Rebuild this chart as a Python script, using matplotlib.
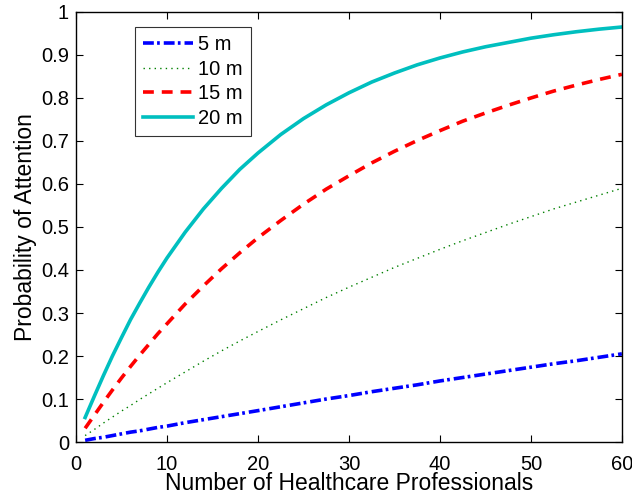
import matplotlib
matplotlib.use("Agg")
import matplotlib.pyplot as plt

plt.rcParams["font.family"] = ["Liberation Sans", "DejaVu Sans"]

# values
n_prof = [1, 2, 3, 4, 5, 6, 7, 8, 9, 10, 12, 14, 16, 18, 20, 22.5, 25, 27.5, 30,
          32.5, 35, 37.5, 40, 42.5, 45, 47.5, 50, 52.5, 55, 57.5, 60]
p_5m = [0.004, 0.008, 0.011, 0.015, 0.019, 0.023, 0.026, 0.030, 0.034, 0.037,
        0.045, 0.052, 0.059, 0.066, 0.073, 0.082, 0.091, 0.100, 0.108, 0.117,
        0.125, 0.133, 0.142, 0.150, 0.158, 0.166, 0.174, 0.182, 0.189, 0.197, 0.205]
p_10m = [0.015, 0.029, 0.044, 0.058, 0.072, 0.085, 0.099, 0.112, 0.125, 0.138,
         0.163, 0.188, 0.212, 0.235, 0.257, 0.284, 0.310, 0.336, 0.360, 0.383,
         0.406, 0.427, 0.448, 0.468, 0.487, 0.506, 0.524, 0.542, 0.558, 0.574, 0.590]
p_15m = [0.032, 0.062, 0.092, 0.121, 0.149, 0.176, 0.202, 0.227, 0.252, 0.275,
         0.321, 0.363, 0.403, 0.440, 0.475, 0.515, 0.553, 0.588, 0.619, 0.649,
         0.676, 0.701, 0.724, 0.746, 0.765, 0.783, 0.800, 0.816, 0.830, 0.843, 0.855]
p_20m = [0.057, 0.106, 0.154, 0.200, 0.243, 0.285, 0.323, 0.360, 0.395, 0.428,
         0.488, 0.542, 0.590, 0.634, 0.672, 0.715, 0.752, 0.784, 0.812, 0.837,
         0.858, 0.877, 0.893, 0.907, 0.919, 0.929, 0.939, 0.947, 0.954, 0.960, 0.965]
labels = ["5 m", "10 m", "15 m", "20 m"]

fig = plt.figure(figsize=(6.32, 4.98), dpi=100)
ax = fig.add_axes([0.1203, 0.1124, 0.8637, 0.8636])

ax.plot(n_prof, p_5m, color="#0000ff", lw=2.6, ls=(0, (3, 0.9, 0.75, 1.1)), label=labels[0])
ax.plot(n_prof, p_10m, color="#008000", lw=1.0, ls=(0, (1, 3)), label=labels[1])
ax.plot(n_prof, p_15m, color="#ff0000", lw=2.6, ls=(0, (3, 2.2)), label=labels[2])
ax.plot(n_prof, p_20m, color="#00bfbf", lw=2.6, ls="-", label=labels[3])

ax.set_xlim(0, 60)
ax.set_ylim(0, 1)
ax.set_xticks(range(0, 61, 10))
ax.set_yticks([i / 10 for i in range(11)])
ax.set_yticklabels(["0"] + [f"{i / 10:g}" for i in range(1, 10)] + ["1"])
ax.tick_params(direction="in", top=True, right=True, length=5, labelsize=14.5, width=0.8)
ax.tick_params(axis="x", pad=9)
ax.tick_params(axis="y", pad=5)
for s in ax.spines.values():
    s.set_linewidth(1.0)

ax.set_xlabel("Number of Healthcare Professionals", fontsize=16.5, labelpad=-1)
ax.set_ylabel("Probability of Attention", fontsize=16.5, labelpad=3)

leg = ax.legend(loc="upper left", bbox_to_anchor=(0.108, 0.965), fontsize=14.5,
                frameon=True, fancybox=False, handlelength=2.5, handletextpad=0.25,
                labelspacing=0.28, borderpad=0.4, borderaxespad=0)
leg.get_frame().set_edgecolor("black")
leg.get_frame().set_linewidth(0.8)

fig.savefig("out.png", dpi=100)
